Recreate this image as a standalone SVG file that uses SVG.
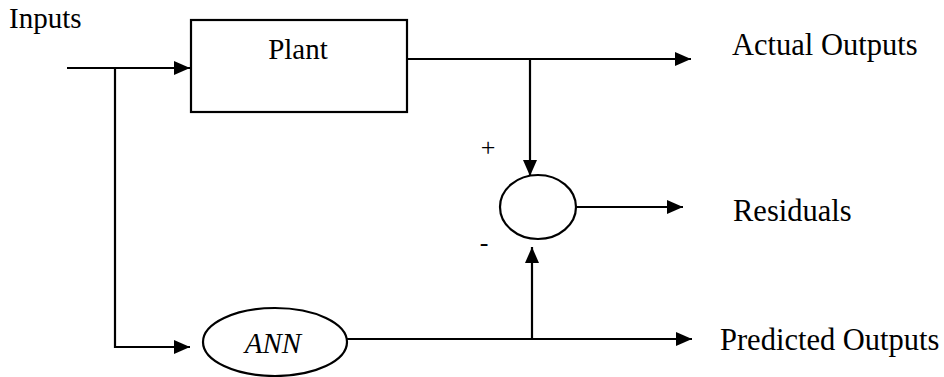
<svg xmlns="http://www.w3.org/2000/svg" width="944" height="377" viewBox="0 0 944 377">
<style>
.shape{fill:#fff;stroke:#000;stroke-width:2.2}
.wire{fill:none;stroke:#000;stroke-width:2.2}
.out{font-size:30.5px}
</style>
<defs>
<marker id="ah" viewBox="0 0 16 14" refX="16" refY="7" markerWidth="16" markerHeight="14" markerUnits="userSpaceOnUse" orient="auto">
<path d="M0,0 L16,7 L0,14 Z" fill="#000"/>
</marker>
</defs>
<g font-family="Liberation Serif, Times New Roman, serif" font-size="29" fill="#000">
<g id="inputs-label"><text x="9" y="28">Inputs</text></g>
<g id="plant"><rect class="shape" x="191" y="20" width="216" height="92"/><text x="298" y="59" text-anchor="middle">Plant</text></g>
<g id="sum"><ellipse class="shape" cx="538" cy="207" rx="38" ry="32"/></g>
<g id="ann"><ellipse class="shape" cx="275" cy="342" rx="72" ry="34"/><text x="273" y="353" text-anchor="middle" font-style="italic">ANN</text></g>
<g id="actual-label"><text class="out" x="732" y="55">Actual Outputs</text></g>
<g id="residuals-label"><text class="out" x="733" y="221">Residuals</text></g>
<g id="predicted-label"><text class="out" x="720" y="350">Predicted Outputs</text></g>
<g id="signs" font-size="26"><text x="488" y="156" text-anchor="middle">+</text><text x="484" y="251" text-anchor="middle">-</text></g>
</g>
<g id="connectors">
<path class="wire" d="M67,68 H190" marker-end="url(#ah)"/>
<path class="wire" d="M115,68 V347 H190" marker-end="url(#ah)"/>
<path class="wire" d="M407,59 H691" marker-end="url(#ah)"/>
<path class="wire" d="M530,59 V176" marker-end="url(#ah)"/>
<path class="wire" d="M576,207 H683" marker-end="url(#ah)"/>
<path class="wire" d="M347,339 H692" marker-end="url(#ah)"/>
<path class="wire" d="M532,339 V247" marker-end="url(#ah)"/>
</g>
</svg>
